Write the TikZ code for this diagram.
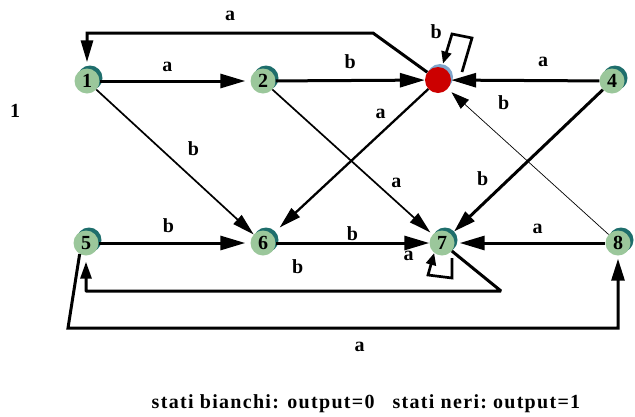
\documentclass[tikz,border=0pt]{standalone}
\usepackage{fontspec}
\setmainfont{Liberation Serif}
\newfontfamily\legendfont[LetterSpace=6.5]{Liberation Serif}
\usetikzlibrary{arrows.meta,shadows}

\definecolor{stategreen}{RGB}{155,199,155}
\definecolor{stateshade}{RGB}{30,110,108}
\definecolor{outred}{RGB}{204,0,0}
\definecolor{outshade}{RGB}{128,166,204}

\begin{document}
\begin{tikzpicture}[x=1pt, y=-1pt]
        % Style definitions
        \tikzset{
            state/.style={circle, minimum size=25pt, inner sep=0pt, fill=stategreen,
                font=\bfseries\fontsize{20}{20}\selectfont,
                drop shadow={shadow xshift=3pt, shadow yshift=3pt, fill=stateshade, opacity=1}},
            outstate/.style={circle, minimum size=26pt, inner sep=0pt, fill=outred,
                drop shadow={shadow xshift=2pt, shadow yshift=3pt, fill=outshade, opacity=1}},
            trans/.style={line width=3pt, -{Triangle[length=25pt, width=14pt]}},
            diagtrans/.style={line width=1.7pt, -{Triangle[length=22pt, width=12pt]}},
            selfloop/.style={line width=2.7pt, -{Triangle[length=12pt, width=10pt]}},
            lbl/.style={font=\bfseries\fontsize{20}{20}\selectfont, text height=13.5pt, text depth=0pt, inner sep=1pt}
        }
        \useasboundingbox (0,0) rectangle (635,416);

        % ==========================================
        % STATES
        % ==========================================
        \node[state]    (n1) at (87,81)   {1};
        \node[state]    (n2) at (263,81)  {2};
        \node[outstate] (n3) at (438,80)  {};
        \node[state]    (n4) at (612,81)  {4};
        \node[state]    (n5) at (86,243)  {5};
        \node[state]    (n6) at (263,243) {6};
        \node[state]    (n7) at (442,243) {7};
        \node[state]    (n8) at (618,243) {8};

        % corner points of the long connectors and of the loops
        \coordinate (c31a) at (373,33);
        \coordinate (c31b) at (87,33);
        \coordinate (c75a) at (501,291);
        \coordinate (c75b) at (86,291);
        \coordinate (c58a) at (68,328);
        \coordinate (c58b) at (618,328);
        \coordinate (l3a) at (462,72);
        \coordinate (l3b) at (472,38);
        \coordinate (l3c) at (452,34);
        \coordinate (l7a) at (452,258);
        \coordinate (l7b) at (452,278);
        \coordinate (l7c) at (428,275);

        % ==========================================
        % TOP ROW
        % ==========================================
        \draw[trans, shorten >=5pt] (n1) -- node[lbl, pos=.45, above=7pt] {a} (n2);
        \draw[trans] (n2) -- node[lbl, above=10pt] {b} (n3);
        \draw[trans] (n4) -- node[lbl, pos=.38, above=11.5pt] {a} (n3);
        % back from the red state over the top
        \draw[trans, -{Triangle[length=22pt, width=12pt]}, shorten >=6pt]
            (n3) -- (c31a) -- node[lbl, above=10pt] {a} (c31b) -- (n1);
        \draw[selfloop, shorten >=4pt]
            (l3a) -- (l3b) -- (l3c) node[lbl, anchor=base east, xshift=-8pt, yshift=-4pt] {b} -- (n3);

        % ==========================================
        % BOTTOM ROW
        % ==========================================
        \draw[trans, shorten >=5pt] (n5) -- node[lbl, pos=.46, above=8.5pt] {b} (n6);
        \draw[trans] (n6) -- node[lbl, above=.5pt] {b} (n7);
        \draw[trans, shorten >=5pt] (n8) -- node[lbl, pos=.45, above=7pt] {a} (n7);
        \draw[selfloop]
            (l7a) -- (l7b) -- (l7c) node[lbl, anchor=base east, xshift=-12pt, yshift=15pt] {a} -- (n7.-128);
        % long way round underneath
        \draw[trans, line join=bevel, -{Triangle[length=17pt, width=11pt]}, shorten >=6pt]
            (n7) -- (c75a) -- node[lbl, pos=.49, above=15pt] {b} (c75b) -- (n5);
        \draw[trans, -{Triangle[length=22pt, width=13pt]}, shorten >=3pt]
            (n5.-120) -- (c58a) -- node[lbl, pos=.53, below=7.5pt] {a} (c58b) -- (n8);

        % ==========================================
        % CROSSING TRANSITIONS
        % ==========================================
        \draw[diagtrans] (n1) -- node[lbl, pos=.52, above right=8pt] {b} (n6);
        \draw[diagtrans, shorten >=3pt] (n2) -- node[lbl, pos=.71, above right=3.5pt] {a} (n7);
        \draw[diagtrans, line width=2.3pt, shorten >=10pt] (n3) -- node[lbl, pos=.24, above left=3pt] {a} (n6);
        \draw[trans, -{Triangle[length=22pt, width=13pt]}, shorten >=4pt]
            (n4) -- node[lbl, pos=.71, above left=4.5pt] {b} (n7);
        \draw[diagtrans, line width=.7pt, -{Triangle[length=18pt, width=12pt]}, shorten >=5pt]
            (n8) -- node[lbl, pos=.77, above right=12pt] {b} (n3);

        % texts
        \node[lbl, anchor=base] (tag) at (15,117) {1};
        \node[lbl, anchor=base, font=\legendfont\bfseries\fontsize{20}{20}\selectfont] (legend) at (366,408)
            {stati bianchi: output=0\hspace{18pt}stati neri:\hspace{6pt}output=1};

    \end{tikzpicture}
\end{document}
